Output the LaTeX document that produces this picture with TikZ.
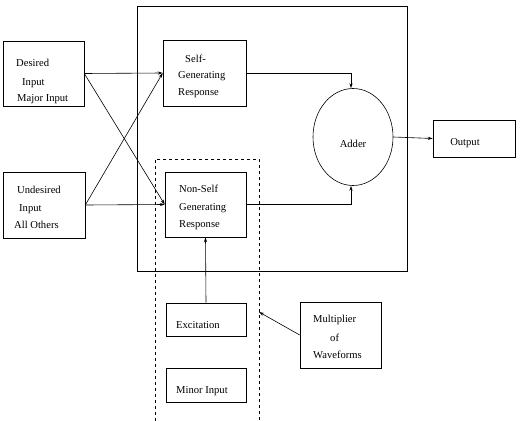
\documentclass[tikz,border=0pt]{standalone}
\usepackage{fontspec}
\setmainfont{Liberation Serif}
\usetikzlibrary{arrows.meta,shapes.geometric}
\begin{document}
\begin{tikzpicture}[x=1pt,y=-1pt,
  box/.style={draw,line width=0.6pt,inner sep=0pt,minimum width=#1},
  lbl/.style={anchor=base west,inner sep=0pt,font=\fontsize{10.6}{13}\selectfont},
  clbl/.style={anchor=base,inner sep=0pt,font=\fontsize{10.6}{13}\selectfont},
  arr/.style={line width=0.6pt,-{Stealth[length=5pt,width=3.2pt]}},
  ln/.style={line width=0.6pt}]
\useasboundingbox (0,0) rectangle (521,420);
% outer box and dashed region
\draw[ln] (137,6) rectangle (407,271);
\draw[ln,dashed,dash pattern=on 3pt off 3pt] (155,421) -- (155,159) -- (259,159) -- (259,421);
% boxes
\node[box=81pt,minimum height=65pt] (des) at (43.5,73.5) {};
\node[box=82pt,minimum height=66pt] (und) at (44,205) {};
\node[box=83pt,minimum height=66pt] (self) at (204.5,73) {};
\node[box=81pt,minimum height=65pt] (nons) at (205.5,204.5) {};
\node[draw,ln,ellipse,inner sep=0pt,minimum width=80pt,minimum height=97pt] (adder) at (353,137) {};
\node[box=82pt,minimum height=37pt] (out) at (474,138.5) {};
\node[box=80pt,minimum height=33pt] (exc) at (206,319.5) {};
\node[box=80pt,minimum height=34pt] (minor) at (206,385) {};
\node[box=81pt,minimum height=66pt] (mult) at (340.5,335) {};
\coordinate (dashpt) at (259,312);
% texts
\node[lbl] (t1) at (16,66) {Desired};
\node[lbl] (t2) at (22,85) {Input};
\node[lbl] (t3) at (17,101) {Major Input};
\node[lbl] (t4) at (17,193) {Undesired};
\node[lbl] (t5) at (19,211) {Input};
\node[lbl] (t6) at (14,228) {All Others};
\node[lbl] (t7) at (185,62) {Self-};
\node[lbl] (t8) at (178,78) {Generating};
\node[lbl] (t9) at (178,95) {Response};
\node[lbl] (t10) at (179,192) {Non-Self};
\node[lbl] (t11) at (179,210) {Generating};
\node[lbl] (t12) at (179,227) {Response};
\node[clbl] (t13) at (353,147) {Adder};
\node[clbl] (t14) at (465,145) {Output};
\node[lbl] (t15) at (176,328) {Excitation};
\node[lbl] (t16) at (176,393) {Minor Input};
\node[lbl] (t17) at (313,322) {Multiplier};
\node[lbl] (t18) at (330,341) {of};
\node[lbl] (t19) at (313,358) {Waveforms};
% connectors
\draw[arr] (des.east) -- (self.west);
\draw[arr] (des.east) -- (nons.west);
\draw[arr] (und.east) -- (self.west);
\draw[arr] (und.east) -- (nons.west);
\draw[arr] (self.east) -| ([xshift=-2pt]adder.north);
\draw[arr] (nons.east) -| ([xshift=-2pt]adder.south);
\draw[arr] (adder.east) -- (out.west);
\draw[arr] (exc.north) -- (nons.south);
\draw[arr] (mult.west) -- (dashpt);
\end{tikzpicture}
\end{document}
